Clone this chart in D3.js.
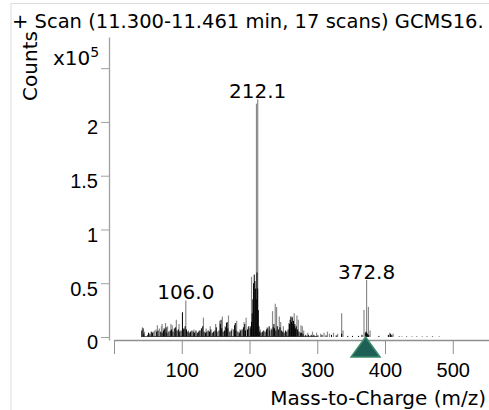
<!DOCTYPE html>
<html>
<head>
<meta charset="utf-8">
<script src="https://cdn.jsdelivr.net/npm/d3@7"></script>
<style>
  html, body { margin: 0; padding: 0; background: #fff; overflow: hidden; }
  svg { display: block; font-family: "DejaVu Sans", sans-serif; }
</style>
</head>
<body>
<svg id="chart" width="489" height="410"></svg>
<script>
// ---- data (intensity in units of 1e5 counts) ----
const titleText = "+ Scan (11.300-11.461 min, 17 scans) GCMS16.";
const xAxisTitle = "Mass-to-Charge (m/z)";
const yAxisTitle = "Counts";
const mzTicks = [0, 100, 200, 300, 400, 500];
const countTicks = [0, 0.5, 1, 1.5, 2, 2.5];
const countTickLabels = ["0", "0.5", "1", "1.5", "2", ""];

const grayMz = [42,45,56,58,60,62,64,67,70,71,76,79,84,86,92,96,104,106,110,118,126,132,136,142,150,156,160,164,169,174,181,186,192,195,198,203,210.3,212.1,216,226,232,234,238,240,244,246,250,258,263,266,270,272,276,278,280,286,293,299,305,310,315,318,324,330,336,338,369,372.8,375.5,378,407,412,425,440,455,480];
const grayInt = [0.09,0.05,0.04,0.05,0.06,0.07,0.11,0.08,0.10,0.12,0.13,0.10,0.12,0.11,0.16,0.12,0.08,0.34,0.06,0.07,0.06,0.18,0.08,0.10,0.12,0.15,0.19,0.10,0.20,0.08,0.15,0.07,0.14,0.18,0.09,0.56,2.17,2.21,0.07,0.09,0.08,0.24,0.31,0.28,0.19,0.14,0.10,0.13,0.19,0.22,0.20,0.16,0.11,0.10,0.06,0.04,0.05,0.04,0.03,0.04,0.05,0.03,0.04,0.03,0.22,0.06,0.25,0.53,0.28,0.06,0.04,0.03,0.008,0.008,0.008,0.006];

const blackMz = [41,43,44,50,51,53,55,57,63,65,69,71,73,74,75,77,78,81,83,85,87,89,91,93,95,97,99,101,102,103,105,107,109,111,113,115,117,119,121,123,125,127,129,131,133,135,137,139,141,143,145,147,149,151,152,155,157,158,159,161,163,165,166,167,168,171,173,177,178,179,180,183,185,187,189,191,193,194,197,199,201,202,203,204,205,206,207,208,209,210,211,212,213,214,215,217,219,221,223,225,227,229,230,233,235,236,237,239,241,243,245,247,249,251,253,255,257,259,260,261,262,263,264,265,266,267,268,269,271,273,275,277,279,283,287,291,295,301,307,313,321,328,336,345,352,361,366,371,372,373,374,376,391,405,408,410,421,432,447,462,470];
const blackInt = [0.06,0.08,0.03,0.02,0.04,0.03,0.05,0.04,0.05,0.06,0.05,0.04,0.06,0.08,0.07,0.09,0.04,0.05,0.06,0.07,0.05,0.08,0.09,0.06,0.07,0.05,0.06,0.23,0.08,0.07,0.10,0.07,0.05,0.04,0.05,0.06,0.05,0.04,0.06,0.04,0.05,0.06,0.08,0.10,0.05,0.04,0.05,0.06,0.05,0.07,0.04,0.05,0.06,0.09,0.05,0.06,0.12,0.16,0.08,0.05,0.06,0.09,0.13,0.14,0.08,0.05,0.06,0.07,0.11,0.13,0.06,0.05,0.04,0.06,0.07,0.09,0.12,0.06,0.07,0.10,0.08,0.10,0.14,0.22,0.35,0.50,0.58,0.52,0.45,0.35,0.60,0.45,0.25,0.10,0.05,0.04,0.05,0.06,0.05,0.07,0.08,0.10,0.06,0.07,0.09,0.12,0.08,0.06,0.10,0.07,0.09,0.06,0.05,0.04,0.06,0.05,0.07,0.12,0.16,0.19,0.14,0.18,0.12,0.15,0.10,0.12,0.08,0.10,0.07,0.05,0.04,0.04,0.03,0.02,0.02,0.02,0.02,0.015,0.02,0.015,0.02,0.015,0.03,0.01,0.01,0.01,0.02,0.04,0.05,0.04,0.03,0.02,0.01,0.02,0.03,0.02,0.005,0.005,0.005,0.005,0.005];

const labelMz = [106.0, 212.1, 372.8];
const labelInt = [0.34, 2.21, 0.53];
const precursorMz = [372.8];

// ---- layout ----
const svg = d3.select("#chart");
const x = d3.scaleLinear().domain([0, 553.5]).range([114, 489]);
const y = d3.scaleLinear().domain([-0.028, 2.79]).range([340, 37]);
const baseY = y(0);
const fontSize = 20;

// frame
svg.append("line").attr("x1", 11).attr("x2", 11).attr("y1", 3).attr("y2", 410).attr("stroke", "#dcdcdc");
svg.append("line").attr("x1", 11).attr("x2", 489).attr("y1", 3.5).attr("y2", 3.5).attr("stroke", "#dcdcdc");

// title
svg.append("text").attr("x", 12).attr("y", 28).attr("font-size", 19.5).attr("fill", "#000").text(titleText);

// y axis
const yAxis = svg.append("g").attr("transform", "translate(109,0)")
  .call(d3.axisLeft(y).tickValues(countTicks).tickSize(8).tickSizeOuter(0).tickPadding(3)
    .tickFormat((d, i) => countTickLabels[i]));
yAxis.select(".domain").attr("stroke", "#a0a0a0").attr("stroke-width", 1.3);
yAxis.selectAll(".tick line").attr("stroke", "#a0a0a0");
yAxis.selectAll(".tick text").attr("font-size", fontSize).attr("font-family", null).attr("fill", "#000").attr("dy", 12);

// x axis
const xAxis = svg.append("g").attr("transform", "translate(0,340)")
  .call(d3.axisBottom(x).tickValues(mzTicks).tickSize(14).tickSizeOuter(0)
    .tickFormat(d => d === 0 ? "" : String(d)));
xAxis.select(".domain").attr("stroke", "#909090").attr("stroke-width", 1.3);
xAxis.selectAll(".tick line").attr("stroke", "#909090");
xAxis.selectAll(".tick text").attr("font-size", fontSize).attr("font-family", null).attr("fill", "#000").attr("y", 37).attr("dy", 0);

// axis titles
svg.append("text").attr("transform", "translate(37,66) rotate(-90)").attr("text-anchor", "middle")
  .attr("font-size", fontSize).text(yAxisTitle);
const mult = svg.append("text").attr("x", 53).attr("y", 65).attr("font-size", fontSize);
mult.append("tspan").text("x10");
mult.append("tspan").attr("font-size", 14).attr("dy", -8).text("5");

svg.append("text").attr("x", 486).attr("y", 405).attr("text-anchor", "end").attr("font-size", fontSize).text(xAxisTitle);

// spectrum sticks
const gray = grayMz.map((m, i) => ({ m, v: grayInt[i] }));
const black = blackMz.map((m, i) => ({ m, v: blackInt[i] }));
svg.append("g").selectAll("line").data(gray).join("line")
  .attr("x1", d => x(d.m)).attr("x2", d => x(d.m))
  .attr("y1", baseY).attr("y2", d => y(d.v))
  .attr("stroke", "#8a8a8a").attr("stroke-width", 1.2);
svg.append("g").selectAll("line").data(black).join("line")
  .attr("x1", d => x(d.m)).attr("x2", d => x(d.m))
  .attr("y1", baseY).attr("y2", d => y(d.v))
  .attr("stroke", "#000").attr("stroke-width", 1);
// baseline noise
svg.append("line").attr("x1", x(d3.min(blackMz))).attr("x2", x(300)).attr("y1", baseY - 0.5).attr("y2", baseY - 0.5)
  .attr("stroke", "#333").attr("stroke-width", 0.8);

// peak labels
svg.append("g").selectAll("text").data(labelMz).join("text")
  .attr("x", d => x(d)).attr("y", (d, i) => y(labelInt[i]) - 1.5)
  .attr("text-anchor", "middle").attr("font-size", fontSize)
  .text(d => d.toFixed(1));

// precursor marker
svg.append("g").selectAll("path").data(precursorMz).join("path")
  .attr("d", d => {
    const cx = x(d) - 1;
    return `M${cx},${baseY} L${cx + 14.5},${baseY + 20} L${cx - 14.5},${baseY + 20} Z`;
  })
  .attr("fill", "#1e5f56").attr("stroke", "#3c8c6c").attr("stroke-width", 1.5).attr("stroke-linejoin", "miter");
</script>
</body>
</html>
